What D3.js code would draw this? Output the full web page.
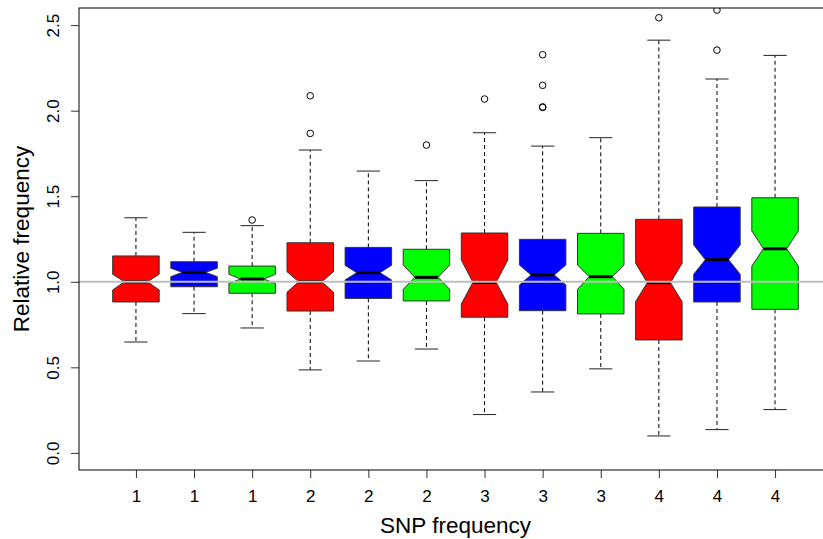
<!DOCTYPE html>
<html>
<head>
<meta charset="utf-8">
<script src="https://cdn.jsdelivr.net/npm/d3@7"></script>
<style>
  body { margin: 0; background: #fff; }
</style>
</head>
<body>
<div id="chart"></div>
<script>
// SNP frequency group of each box, left to right
const groupLabels = ['1', '1', '1', '2', '2', '2', '3', '3', '3', '4', '4', '4'];
const boxColors = ['#ff0000', '#0000ff', '#00ff00', '#ff0000', '#0000ff', '#00ff00',
                   '#ff0000', '#0000ff', '#00ff00', '#ff0000', '#0000ff', '#00ff00'];

// five-number summaries
const whiskerLo = [0.648, 0.814, 0.730, 0.485, 0.537, 0.607, 0.224, 0.356, 0.491, 0.099, 0.136, 0.253];
const lowerHinge = [0.882, 0.971, 0.933, 0.829, 0.903, 0.888, 0.793, 0.831, 0.812, 0.660, 0.882, 0.839];
const medians = [1.000, 1.055, 1.016, 1.000, 1.053, 1.026, 0.997, 1.040, 1.030, 0.995, 1.129, 1.193];
const upperHinge = [1.151, 1.117, 1.092, 1.228, 1.201, 1.190, 1.285, 1.248, 1.283, 1.365, 1.437, 1.491];
const whiskerHi = [1.374, 1.289, 1.328, 1.770, 1.647, 1.591, 1.871, 1.793, 1.842, 2.412, 2.185, 2.323];
// notch limits
const notchLo = [0.952, 1.030, 0.991, 0.939, 1.011, 0.956, 0.870, 0.981, 0.956, 0.884, 1.044, 1.092];
const notchHi = [1.044, 1.079, 1.044, 1.059, 1.096, 1.098, 1.127, 1.098, 1.098, 1.108, 1.215, 1.297];
const outliers = [[], [], [1.361], [1.867, 2.087], [], [1.799], [2.068],
                  [2.019, 2.022, 2.148, 2.327], [], [2.543], [2.354, 2.588], []];

const yTicks = [0, 0.5, 1.0, 1.5, 2.0, 2.5];
const refLine = 1.0;

const width = 823;
const height = 539;
const plot = { left: 79, top: 8, right: 832, bottom: 470 };

const boxes = groupLabels.map((g, i) => ({
    pos: i + 1,
    label: g,
    color: boxColors[i],
    lo: whiskerLo[i], q1: lowerHinge[i], med: medians[i], q3: upperHinge[i], hi: whiskerHi[i],
    nlo: notchLo[i], nhi: notchHi[i],
    out: outliers[i]
}));

// R style 4% padding round 0.5..12.5 and ylim 0..2.5
const x = d3.scaleLinear()
    .domain([0.02, 12.98])
    .range([plot.left, plot.right]);

const y = d3.scaleLinear()
    .domain([-0.1, 2.6])
    .range([plot.bottom, plot.top]);

const halfW = (x(1.4) - x(1)); // box width 0.8
const fontFamily = 'Liberation Sans, Arial, Helvetica, sans-serif';

const svg = d3.select('#chart')
    .append('svg')
    .attr('width', width)
    .attr('height', height);

svg.append('defs').append('clipPath')
    .attr('id', 'plot-clip')
    .append('rect')
    .attr('x', plot.left)
    .attr('y', plot.top)
    .attr('width', plot.right - plot.left)
    .attr('height', plot.bottom - plot.top);

const g = svg.append('g').attr('clip-path', 'url(#plot-clip)');

const bg = g.selectAll('g.box')
    .data(boxes)
    .join('g')
    .attr('class', 'box');

// whiskers (dashed)
bg.append('line')
    .attr('x1', d => x(d.pos)).attr('x2', d => x(d.pos))
    .attr('y1', d => y(d.q3)).attr('y2', d => y(d.hi))
    .attr('stroke', 'black').attr('stroke-dasharray', '4,3');
bg.append('line')
    .attr('x1', d => x(d.pos)).attr('x2', d => x(d.pos))
    .attr('y1', d => y(d.q1)).attr('y2', d => y(d.lo))
    .attr('stroke', 'black').attr('stroke-dasharray', '4,3');

// staples
[d => d.hi, d => d.lo].forEach(f => {
    bg.append('line')
        .attr('x1', d => x(d.pos) - halfW / 2).attr('x2', d => x(d.pos) + halfW / 2)
        .attr('y1', d => y(f(d))).attr('y2', d => y(f(d)))
        .attr('stroke', '#222');
});

// notched boxes
bg.append('path')
    .attr('d', d => {
        const c = x(d.pos);
        const pts = [
            [c - halfW, y(d.q1)], [c + halfW, y(d.q1)], [c + halfW, y(d.nlo)],
            [c + halfW / 2, y(d.med)], [c + halfW, y(d.nhi)], [c + halfW, y(d.q3)],
            [c - halfW, y(d.q3)], [c - halfW, y(d.nhi)], [c - halfW / 2, y(d.med)],
            [c - halfW, y(d.nlo)]
        ];
        return d3.line()(pts) + 'Z';
    })
    .attr('fill', d => d.color)
    .attr('stroke', '#333')
    .attr('stroke-width', 1);

// medians
bg.append('line')
    .attr('x1', d => x(d.pos) - halfW / 2).attr('x2', d => x(d.pos) + halfW / 2)
    .attr('y1', d => y(d.med)).attr('y2', d => y(d.med))
    .attr('stroke', 'black').attr('stroke-width', 3);

// outliers
bg.selectAll('circle')
    .data(d => d.out.map(v => ({ pos: d.pos, v })))
    .join('circle')
    .attr('cx', d => x(d.pos))
    .attr('cy', d => y(d.v))
    .attr('r', 3.3)
    .attr('fill', 'none')
    .attr('stroke', 'black');

// reference line at 1
g.append('line')
    .attr('x1', plot.left).attr('x2', plot.right)
    .attr('y1', y(refLine)).attr('y2', y(refLine))
    .attr('stroke', '#bebebe').attr('stroke-width', 2);

// x axis
svg.append('g')
    .attr('transform', `translate(0, ${plot.bottom})`)
    .call(d3.axisBottom(x).tickValues(d3.range(1, 13)).tickFormat(i => groupLabels[i - 1]).tickSize(8))
    .call(a => a.select('.domain').remove())
    .call(a => a.selectAll('line').attr('stroke', '#333'))
    .selectAll('text')
    .attr('y', 32)
    .attr('dy', null)
    .attr('fill', 'black')
    .attr('font-family', fontFamily)
    .attr('font-size', '17px');

// y axis
svg.append('g')
    .attr('transform', `translate(${plot.left}, 0)`)
    .call(d3.axisLeft(y).tickValues(yTicks).tickFormat(d3.format('.1f')).tickSize(8))
    .call(a => a.select('.domain').remove())
    .call(a => a.selectAll('line').attr('stroke', '#333'))
    .selectAll('text')
    .attr('transform', 'rotate(-90)')
    .attr('x', 0)
    .attr('y', -20)
    .attr('dy', null)
    .attr('text-anchor', 'middle')
    .attr('fill', 'black')
    .attr('font-family', fontFamily)
    .attr('font-size', '17px');

// frame
svg.append('rect')
    .attr('x', plot.left)
    .attr('y', plot.top)
    .attr('width', plot.right - plot.left)
    .attr('height', plot.bottom - plot.top)
    .attr('fill', 'none')
    .attr('stroke', 'black')
    .attr('stroke-width', 1);

// axis titles
svg.append('text')
    .attr('x', (plot.left + plot.right) / 2)
    .attr('y', 533)
    .attr('text-anchor', 'middle')
    .attr('font-family', fontFamily)
    .attr('font-size', '22.5px')
    .text('SNP frequency');

svg.append('text')
    .attr('transform', `translate(29, ${(plot.top + plot.bottom) / 2}) rotate(-90)`)
    .attr('text-anchor', 'middle')
    .attr('font-family', fontFamily)
    .attr('font-size', '22.5px')
    .text('Relative frequency');
</script>
</body>
</html>
